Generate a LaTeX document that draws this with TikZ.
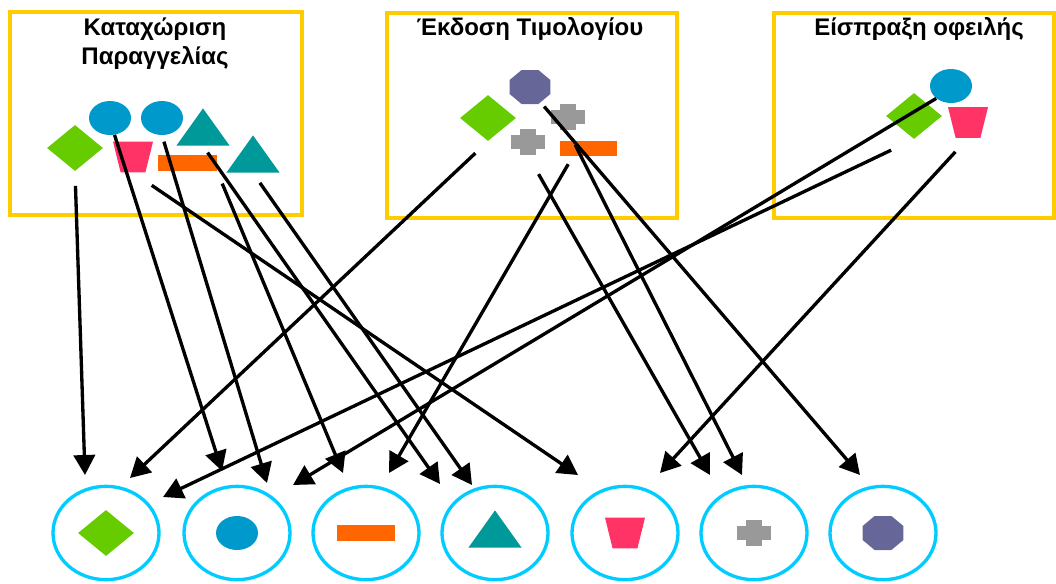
\documentclass[tikz,border=0pt]{standalone}
\usepackage{fontspec}
\setmainfont{Liberation Sans}
\usepackage{tikz}
\usetikzlibrary{shapes.geometric, arrows.meta}

\definecolor{panelgold}{HTML}{FFCC00}
\definecolor{ringcyan}{HTML}{00CCFF}
\definecolor{leafgreen}{HTML}{66CC00}
\definecolor{seablue}{HTML}{0099CC}
\definecolor{tealshape}{HTML}{009999}
\definecolor{rosered}{HTML}{FF3366}
\definecolor{barorange}{HTML}{FF6600}
\definecolor{crossgray}{HTML}{999999}
\definecolor{slatepurple}{HTML}{666699}

\begin{document}
\begin{tikzpicture}[x=0.75pt, y=-0.75pt,
		panel/.style={draw=panelgold, line width=3pt},
		title/.style={font=\bfseries\fontsize{18}{22}\selectfont, anchor=base, inner sep=0pt},
		ring/.style={ellipse, draw=ringcyan, line width=2.5pt, minimum width=79.5pt, minimum height=70pt, inner sep=0pt},
		dia/.style={diamond, fill=leafgreen, minimum width=42pt, minimum height=34.5pt, inner sep=0pt},
		blob/.style={ellipse, fill=seablue, minimum width=31.5pt, minimum height=25.5pt, inner sep=0pt},
		oct/.style={regular polygon, regular polygon sides=8, fill=slatepurple, minimum size=30pt, inner sep=0pt, xscale=1.1, yscale=0.92},
		tri/.style={isosceles triangle, shape border rotate=90, isosceles triangle stretches, fill=tealshape, minimum width=40pt, minimum height=28pt, inner sep=1pt, anchor=south},
		trap/.style={trapezium, shape border rotate=180, trapezium left angle=73, trapezium right angle=73, trapezium stretches, fill=rosered, minimum width=30pt, minimum height=23pt, inner sep=1pt},
		bar/.style={rectangle, fill=barorange, minimum width=44pt, minimum height=12pt, inner sep=0pt},
		plusv/.style={rectangle, fill=crossgray, minimum width=12pt, minimum height=20pt, inner sep=0pt},
		plush/.style={rectangle, fill=crossgray, minimum width=25.5pt, minimum height=10pt, inner sep=0pt},
		arr/.style={line width=2.5pt, -{Triangle[length=15pt, width=16pt]}}]

	\useasboundingbox (0,0) rectangle (1056,583);

	\draw[panel] (10,12) rectangle (302,215);
	\draw[panel] (387,13) rectangle (677,218);
	\draw[panel] (774,13) rectangle (1054,218);

	\node[title] (ktitle1) at (155,35) {Καταχώριση};
	\node[title] (ktitle2) at (155,64) {Παραγγελίας};
	\node[title] (etitle) at (530,35) {Έκδοση Τιμολογίου};
	\node[title] (ititle) at (919,35) {Είσπραξη οφειλής};

	\node[dia] (kdia) at (75,148) {};
	\node[blob] (kblob1) at (110,118) {};
	\node[blob] (kblob2) at (162,118) {};
	\node[tri] (ktri1) at (203,146) {};
	\node[trap] (ktrap) at (133,157) {};
	\node[bar] (kbar) at (187.5,163) {};
	\node[tri] (ktri2) at (253,173) {};

	\node[oct] (eoct) at (530,87) {};
	\node[dia] (edia) at (488,118) {};
	\node[plush] (ecr1h) at (568,117) {};
	\node[plusv] (ecr1) at (568,117) {};
	\node[plush] (ecr2h) at (528,142) {};
	\node[plusv] (ecr2) at (528,142) {};
	\node[bar, minimum width=43pt, minimum height=11pt] (ebar) at (588.5,148.5) {};

	\node[dia] (idia) at (914,116) {};
	\node[blob] (iblob) at (951,86) {};
	\node[trap] (itrap) at (968,122.5) {};

	\node[ring] (c1) at (106,533) {};
	\node[ring] (c2) at (237,533) {};
	\node[ring] (c3) at (366,533) {};
	\node[ring] (c4) at (495,533) {};
	\node[ring] (c5) at (625,533) {};
	\node[ring] (c6) at (754,533) {};
	\node[ring] (c7) at (883,533) {};

	\node[dia] (c1s) at (c1) {};
	\node[blob] (c2s) at (c2) {};
	\node[bar] (c3s) at (c3) {};
	\node[tri] (c4s) at (495,548) {};
	\node[trap] (c5s) at (c5) {};
	\node[plush] (c6h) at (c6) {};
	\node[plusv] (c6s) at (c6) {};
	\node[oct] (c7s) at (c7) {};

	\coordinate (c1a) at (85,475);
	\coordinate (c1b) at (130,478);
	\coordinate (c1c) at (163,497);
	\coordinate (c2a) at (222,471);
	\coordinate (c2b) at (267,483);
	\coordinate (c2c) at (293,485);
	\coordinate (c3a) at (343,473);
	\coordinate (c3b) at (389,473);
	\coordinate (c4a) at (440,484);
	\coordinate (c4b) at (472,485);
	\coordinate (c5a) at (578,475);
	\coordinate (c5b) at (660,473);
	\coordinate (c6a) at (710,475);
	\coordinate (c6b) at (742,475);
	\coordinate (c7a) at (860,475);

	\draw[arr, shorten <=11pt] (kdia.south) -- (c1a);
	\draw[arr] (kblob1.-75) -- (c2a);
	\draw[arr, shorten <=5pt] (kblob2.south) -- (c2b);
	\draw[arr, shorten <=17pt] (ktrap.south) -- (c5a);
	\draw[arr, shorten <=10pt] (kbar.south east) -- (c3a);
	\draw[arr, shorten <=6pt] (ktri1.south) -- (c4a);
	\draw[arr, shorten <=9pt] (ktri2.south) -- (c4b);

	\draw[arr, shorten <=13pt] (edia.south) -- (c1b);
	\draw[arr, shorten <=7pt] ([xshift=10pt]ebar.south west) -- (c3b);
	\draw[arr, shorten <=16pt] (ecr2.south) -- (c6a);
	\draw[arr, shorten <=12pt] (ecr1.south) -- (c6b);
	\draw[arr, shorten <=4pt] (eoct.-60) -- (c7a);

	\draw[arr] (iblob.-140) -- (c2c);
	\draw[arr, shorten <=19pt] (idia.south) -- (c1c);
	\draw[arr, shorten <=14pt] (itrap.south) -- (c5b);

\end{tikzpicture}
\end{document}
